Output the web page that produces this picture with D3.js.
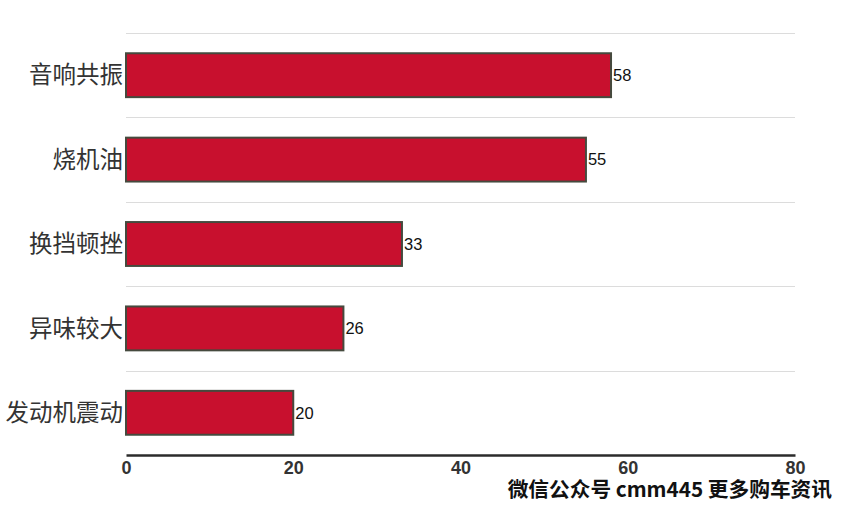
<!DOCTYPE html>
<html><head><meta charset="utf-8">
<script src="https://cdn.jsdelivr.net/npm/d3@7"></script>
<style>body{margin:0;background:#fff}svg{display:block}</style>
</head><body>
<svg id="c" width="853" height="505"></svg>
<script>
const categories = ["音响共振","烧机油","换挡顿挫","异味较大","发动机震动"];
const values = [58,55,33,26,20];
const xTicks = [0,20,40,60,80];
const watermark = "微信公众号 cmm445 更多购车资讯";

const svg = d3.select("#c");
const m = {left:126, right:795, top:33, bottom:455};
const x = d3.scaleLinear().domain([0,80]).range([m.left,m.right]);
const y = d3.scaleBand().domain(categories).range([m.top,m.bottom]).paddingInner(0.48).paddingOuter(0.24);
const step = y.step();

const bounds = categories.map(c => y(c) - y.paddingInner()*step/2);
svg.append("g").selectAll("line").data(bounds).join("line")
  .attr("x1",m.left).attr("x2",m.right)
  .attr("y1",d=>Math.round(d)+0.5).attr("y2",d=>Math.round(d)+0.5)
  .attr("stroke","#dcdcdc").attr("stroke-width",1);

svg.append("g").selectAll("rect").data(categories).join("rect")
  .attr("x",x(0)).attr("y",c=>y(c))
  .attr("width",(c,i)=>x(values[i])-x(0)).attr("height",y.bandwidth())
  .attr("fill","#c8102e").attr("stroke","#454a3e").attr("stroke-width",2);

svg.append("g").selectAll("text").data(categories).join("text")
  .attr("x",(c,i)=>x(values[i])+2).attr("y",c=>y(c)+y.bandwidth()/2)
  .attr("dy","0.35em").attr("font-family","Liberation Sans, Arial, sans-serif")
  .attr("font-size",16.5).attr("fill","#111").text((c,i)=>values[i]);

svg.append("g").selectAll("text").data(categories).join("text")
  .attr("x",m.left-3).attr("y",c=>y(c)+y.bandwidth()/2)
  .attr("dy","0.35em").attr("text-anchor","end")
  .attr("font-family","Noto Sans CJK SC, sans-serif")
  .attr("font-size",23.5).attr("fill","#333").text(c=>c);

const ax = svg.append("g").attr("transform",`translate(0,${m.bottom})`)
  .call(d3.axisBottom(x).tickValues(xTicks).tickSize(0).tickPadding(6));
ax.select(".domain").attr("stroke","#2b2b2b").attr("stroke-width",2.5);
ax.selectAll("text").attr("font-family","Liberation Sans, Arial, sans-serif")
  .attr("font-size",18).attr("font-weight","bold").attr("fill","#333");

svg.append("text").attr("x",832).attr("y",497).attr("text-anchor","end")
  .attr("font-family","Noto Sans CJK SC, sans-serif").attr("font-weight","bold")
  .attr("font-size",20.7).attr("fill","#111").text(watermark);
</script>
</body></html>
